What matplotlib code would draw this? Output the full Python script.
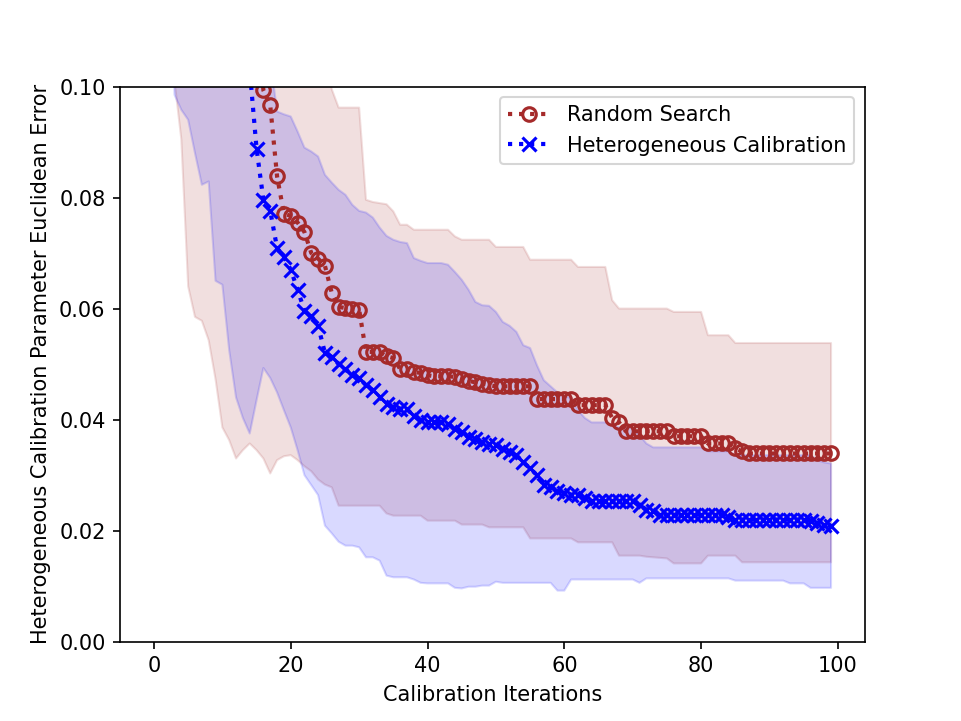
import numpy as np
import matplotlib
matplotlib.use('Agg')
import matplotlib.pyplot as plt

iters = np.arange(100)

# random search: mean and band
rs_mean = [0.30, 0.28, 0.26, 0.24, 0.22, 0.20, 0.19, 0.18, 0.17, 0.16,
           0.15, 0.14, 0.13, 0.125, 0.12, 0.115, 0.0993, 0.0966, 0.0838, 0.0771,
           0.0767, 0.0755, 0.0738, 0.0700, 0.0690, 0.0677, 0.0628, 0.0603, 0.0601, 0.0600,
           0.0598, 0.0522, 0.0522, 0.0522, 0.0514, 0.0511, 0.0491, 0.0491, 0.0486, 0.0484,
           0.0480, 0.0478, 0.0478, 0.0478, 0.0477, 0.0473, 0.0470, 0.0467, 0.0465, 0.0462,
           0.0460, 0.0460, 0.0460, 0.0460, 0.0460, 0.0460, 0.0437, 0.0437, 0.0437, 0.0437,
           0.0437, 0.0437, 0.0426, 0.0426, 0.0426, 0.0426, 0.0426, 0.0403, 0.0395, 0.0379,
           0.0379, 0.0379, 0.0379, 0.0379, 0.0379, 0.0379, 0.0370, 0.0370, 0.0370, 0.0370,
           0.0370, 0.0357, 0.0357, 0.0357, 0.0357, 0.0348, 0.0343, 0.0339, 0.0339, 0.0339,
           0.0339, 0.0339, 0.0339, 0.0339, 0.0339, 0.0339, 0.0339, 0.0339, 0.0339, 0.0339]
rs_upper = [0.40, 0.40, 0.40, 0.38, 0.36, 0.34, 0.32, 0.30, 0.28, 0.26,
            0.24, 0.22, 0.20, 0.19, 0.18, 0.17, 0.16, 0.15, 0.14, 0.13,
            0.125, 0.12, 0.118, 0.115, 0.112, 0.11, 0.0995, 0.0962, 0.0962, 0.0962,
            0.0962, 0.0796, 0.0792, 0.0790, 0.0788, 0.0775, 0.0751, 0.0751, 0.0742, 0.0742,
            0.0742, 0.0742, 0.0742, 0.0742, 0.0730, 0.0724, 0.0724, 0.0724, 0.0724, 0.0724,
            0.0711, 0.0711, 0.0711, 0.0711, 0.0711, 0.0688, 0.0688, 0.0688, 0.0688, 0.0688,
            0.0688, 0.0688, 0.0675, 0.0675, 0.0675, 0.0675, 0.0675, 0.0615, 0.0600, 0.0600,
            0.0600, 0.0600, 0.0600, 0.0600, 0.0600, 0.0600, 0.0594, 0.0594, 0.0594, 0.0594,
            0.0594, 0.0552, 0.0552, 0.0552, 0.0552, 0.0538, 0.0538, 0.0538, 0.0538, 0.0538,
            0.0538, 0.0538, 0.0538, 0.0538, 0.0538, 0.0538, 0.0538, 0.0538, 0.0538, 0.0538]
rs_lower = [0.18, 0.16, 0.13, 0.101, 0.0905, 0.064, 0.0585, 0.0578, 0.0543, 0.0473,
            0.0386, 0.0363, 0.0330, 0.0345, 0.0357, 0.0345, 0.0330, 0.0303, 0.0327, 0.0334,
            0.0336, 0.0327, 0.0316, 0.0307, 0.0292, 0.0283, 0.0278, 0.0245, 0.0245, 0.0245,
            0.0245, 0.0245, 0.0245, 0.0245, 0.0231, 0.0227, 0.0227, 0.0227, 0.0227, 0.0227,
            0.0218, 0.0218, 0.0218, 0.0218, 0.0218, 0.0211, 0.0211, 0.0211, 0.0211, 0.0206,
            0.0206, 0.0206, 0.0206, 0.0206, 0.0206, 0.0186, 0.0186, 0.0186, 0.0186, 0.0186,
            0.0186, 0.0186, 0.0179, 0.0179, 0.0179, 0.0179, 0.0179, 0.0179, 0.0155, 0.0155,
            0.0155, 0.0155, 0.0153, 0.0152, 0.0151, 0.0150, 0.0141, 0.0141, 0.0141, 0.0141,
            0.0141, 0.0155, 0.0155, 0.0155, 0.0155, 0.0155, 0.0143, 0.0143, 0.0143, 0.0143,
            0.0143, 0.0143, 0.0143, 0.0143, 0.0143, 0.0143, 0.0143, 0.0143, 0.0143, 0.0143]

# heterogeneous calibration: mean and band
hc_mean = [0.26, 0.24, 0.22, 0.20, 0.19, 0.18, 0.17, 0.16, 0.15, 0.14,
           0.13, 0.122, 0.115, 0.108, 0.103, 0.0888, 0.0796, 0.0776, 0.0709, 0.0693,
           0.0670, 0.0634, 0.0596, 0.0587, 0.0569, 0.0520, 0.0513, 0.0500, 0.0491, 0.0480,
           0.0475, 0.0462, 0.0453, 0.0440, 0.0428, 0.0422, 0.0420, 0.0419, 0.0406, 0.0399,
           0.0395, 0.0395, 0.0395, 0.0392, 0.0383, 0.0377, 0.0368, 0.0365, 0.0359, 0.0356,
           0.0354, 0.0347, 0.0341, 0.0336, 0.0323, 0.0312, 0.0300, 0.0283, 0.0278, 0.0272,
           0.0267, 0.0265, 0.0264, 0.0258, 0.0253, 0.0253, 0.0253, 0.0253, 0.0253, 0.0253,
           0.0253, 0.0246, 0.0238, 0.0235, 0.0229, 0.0229, 0.0229, 0.0229, 0.0229, 0.0229,
           0.0229, 0.0229, 0.0229, 0.0229, 0.0225, 0.0220, 0.0220, 0.0220, 0.0220, 0.0220,
           0.0220, 0.0220, 0.0220, 0.0220, 0.0220, 0.0220, 0.0218, 0.0213, 0.0211, 0.0209]
hc_upper = [0.40, 0.40, 0.40, 0.38, 0.36, 0.34, 0.32, 0.30, 0.28, 0.26,
            0.24, 0.22, 0.20, 0.18, 0.16, 0.14, 0.12, 0.105, 0.0955, 0.0950,
            0.0946, 0.0919, 0.0890, 0.0883, 0.0874, 0.0841, 0.0827, 0.0814, 0.0805, 0.0787,
            0.0776, 0.0773, 0.0764, 0.0746, 0.0731, 0.0724, 0.0720, 0.0718, 0.0691, 0.0686,
            0.0682, 0.0682, 0.0682, 0.0679, 0.0666, 0.0652, 0.0634, 0.0612, 0.0606, 0.0605,
            0.0594, 0.0576, 0.0569, 0.0558, 0.0534, 0.0529, 0.0498, 0.0471, 0.0460, 0.0449,
            0.0442, 0.0439, 0.0417, 0.0403, 0.0395, 0.0395, 0.0395, 0.0390, 0.0386, 0.0386,
            0.0386, 0.0372, 0.0357, 0.0350, 0.0350, 0.0350, 0.0350, 0.0350, 0.0350, 0.0350,
            0.0350, 0.0343, 0.0343, 0.0343, 0.0343, 0.0336, 0.0336, 0.0336, 0.0336, 0.0336,
            0.0336, 0.0336, 0.0336, 0.0336, 0.0336, 0.0336, 0.0336, 0.0327, 0.0323, 0.0321]
hc_lower = [0.18, 0.16, 0.14, 0.0985, 0.0958, 0.0940, 0.0880, 0.0823, 0.0829, 0.0650,
            0.0643, 0.0525, 0.0440, 0.0403, 0.0375, 0.0435, 0.0493, 0.0475, 0.0449, 0.0417,
            0.0386, 0.0345, 0.0300, 0.0282, 0.0264, 0.0209, 0.0195, 0.0180, 0.0173, 0.0173,
            0.0170, 0.0152, 0.0152, 0.0146, 0.0119, 0.0116, 0.0116, 0.0116, 0.0112, 0.0106,
            0.0105, 0.0105, 0.0105, 0.0105, 0.0097, 0.0096, 0.0099, 0.0099, 0.0101, 0.0101,
            0.0108, 0.0106, 0.0106, 0.0106, 0.0106, 0.0106, 0.0106, 0.0106, 0.0106, 0.0092,
            0.0092, 0.0112, 0.0112, 0.0112, 0.0112, 0.0112, 0.0112, 0.0112, 0.0112, 0.0112,
            0.0112, 0.0106, 0.0114, 0.0114, 0.0114, 0.0114, 0.0114, 0.0114, 0.0114, 0.0114,
            0.0114, 0.0114, 0.0114, 0.0114, 0.0114, 0.0110, 0.0110, 0.0110, 0.0110, 0.0110,
            0.0110, 0.0110, 0.0110, 0.0105, 0.0105, 0.0105, 0.0097, 0.0097, 0.0097, 0.0097]

fig, ax = plt.subplots(figsize=(961/150, 721/150), dpi=150)

ax.plot(iters, rs_mean, ':', color='brown', lw=2, marker='o', mfc='none',
        mew=1.5, ms=6.5, label='Random Search')
ax.fill_between(iters, rs_lower, rs_upper, color='brown', alpha=0.15)
ax.plot(iters, hc_mean, ':', color='blue', lw=2, marker='x',
        mew=1.5, ms=6.5, label='Heterogeneous Calibration')
ax.fill_between(iters, hc_lower, hc_upper, color='blue', alpha=0.15)

ax.set_ylim(0, 0.1)
ax.set_xlabel('Calibration Iterations')
ax.set_ylabel('Heterogeneous Calibration Parameter Euclidean Error')
ax.legend(loc='upper right')

fig.savefig('out.png', dpi=150)
